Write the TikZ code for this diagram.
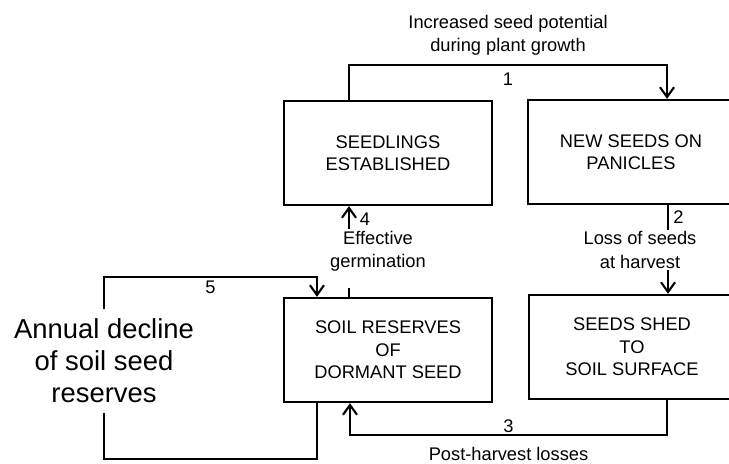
\documentclass[tikz,border=0pt]{standalone}
\usepackage{fontspec}
\setmainfont{Liberation Sans}
\usetikzlibrary{arrows.meta, positioning, calc}
\newcommand{\boxfont}{\fontsize{13}{16}\selectfont}
\newcommand{\lblfont}{\fontsize{13}{16.5}\selectfont}
\newcommand{\bigfont}{\fontsize{19.5}{22.7}\selectfont}

\begin{document}
\begin{tikzpicture}[
    x=0.025cm, y=-0.025cm,
    box/.style = {
      draw, line width=1.6pt,
      minimum width=5.2cm, minimum height=2.6cm,
      align=center, font=\boxfont
    },
    openbox/.style = {box, minimum width=6.2cm, anchor=west},
    arr/.style = {-{Straight Barb[length=7pt, width=10pt]}, line width=1.5pt},
    line/.style = {line width=1.5pt},
    label/.style = {align=center, font=\lblfont, inner sep=1pt},
  ]
    \useasboundingbox (0,0) rectangle (729,464);

    % Boxes of the seed cycle (right column runs off the page)
    \node[box] (seed)    at (388,153) {SEEDLINGS\\ESTABLISHED};
    \node[openbox] (panicle) at (527,152) {};
    \node[box, draw=none] (panicletxt) at (631,152) {NEW SEEDS ON\\PANICLES};
    \node[box] (soil)    at (388,350) {SOIL RESERVES\\OF\\DORMANT SEED};
    \node[openbox] (shed) at (528,347) {};
    \node[box, draw=none] (shedtxt) at (632,347) {SEEDS SHED\\TO\\SOIL SURFACE};

    % Free labels
    \node[label] (loss) at (640,250) {Loss of seeds\\at harvest};
    \node[label] (germ) at (378,251) {Effective\\germination};
    \node[align=center, font=\bigfont, inner ysep=0.24cm] (decline) at (104,361)
      {Annual decline\\of soil seed\\reserves};

    % Flow 1
    \coordinate (p1) at ([xshift=3.5cm]panicle.north west);
    \draw[arr] ([xshift=-0.975cm]seed.north) -- ++(0,-35) -| (p1)
      node[label, pos=0.25, below=4pt] (n1) {1}
      node[label, pos=0.25, above=0.18cm] (growth) {Increased seed potential\\during plant growth};

    % Flow 2
    \coordinate (p2) at ([xshift=3.525cm]panicle.south west);
    \coordinate (s2) at ([xshift=3.5cm]shed.north west);
    \draw[line] (p2) -- (p2 |- loss.north) node[label, midway, right=2pt] (n2) {2};
    \draw[arr] (s2 |- loss.south) -- (s2);

    % Flow 3
    \draw[arr] ([xshift=3.475cm]shed.south west) -- ++(0,35) -| ([xshift=-0.95cm]soil.south)
      node[label, pos=0.25, above=0pt] (n3) {3}
      node[label, pos=0.25, below=0.25cm] (post) {Post-harvest losses};

    % Flow 4
    \coordinate (s4) at ([xshift=-0.975cm]soil.north);
    \draw[line] (s4) -- ++(0,-9);
    \draw[arr] (s4 |- germ.north) -- (s4 |- seed.south) node[label, pos=0.45, right=6pt] (n4) {4};

    % Flow 5
    \coordinate (s5) at ([xshift=-1.775cm]soil.south);
    \coordinate (t5) at ([xshift=-1.775cm]soil.north);
    \draw[line] (s5) -- ++(0,56) -| (decline.south);
    \draw[arr] (decline.north) |- ([yshift=0.5cm]t5) node[label, pos=0.75, below=1pt] (n5) {5} -- (t5);
\end{tikzpicture}
\end{document}
